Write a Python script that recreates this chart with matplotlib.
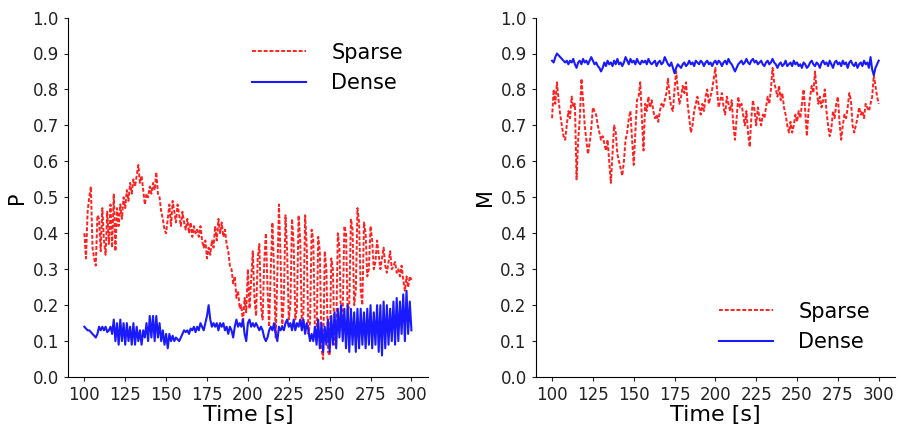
import matplotlib
matplotlib.use("Agg")
import matplotlib.pyplot as plt

times = list(range(100, 301))

p_sparse = [
    0.40, 0.33, 0.46, 0.50, 0.53, 0.36, 0.33, 0.31, 0.45, 0.44,
    0.35, 0.47, 0.38, 0.34, 0.46, 0.37, 0.48, 0.36, 0.51, 0.35,
    0.47, 0.42, 0.48, 0.44, 0.50, 0.47, 0.52, 0.49, 0.54, 0.51,
    0.55, 0.53, 0.56, 0.59, 0.54, 0.56, 0.52, 0.48, 0.51, 0.50,
    0.53, 0.51, 0.54, 0.52, 0.57, 0.51, 0.50, 0.46, 0.44, 0.41,
    0.40, 0.44, 0.48, 0.42, 0.49, 0.46, 0.43, 0.48, 0.45, 0.42,
    0.46, 0.43, 0.41, 0.44, 0.40, 0.43, 0.39, 0.42, 0.40, 0.41,
    0.39, 0.42, 0.38, 0.36, 0.38, 0.33, 0.36, 0.34, 0.38, 0.36,
    0.42, 0.38, 0.44, 0.40, 0.43, 0.39, 0.41, 0.37, 0.35, 0.31,
    0.30, 0.26, 0.28, 0.22, 0.24, 0.19, 0.20, 0.15, 0.22, 0.18,
    0.30, 0.19, 0.27, 0.35, 0.22, 0.17, 0.33, 0.37, 0.20, 0.16,
    0.32, 0.40, 0.25, 0.14, 0.30, 0.43, 0.30, 0.11, 0.28, 0.48,
    0.33, 0.13, 0.22, 0.45, 0.35, 0.16, 0.20, 0.44, 0.37, 0.16,
    0.19, 0.45, 0.38, 0.14, 0.18, 0.45, 0.36, 0.12, 0.15, 0.41,
    0.38, 0.13, 0.10, 0.39, 0.35, 0.08, 0.05, 0.35, 0.30, 0.07,
    0.06, 0.33, 0.30, 0.09, 0.12, 0.40, 0.36, 0.14, 0.18, 0.42,
    0.40, 0.18, 0.20, 0.44, 0.41, 0.20, 0.24, 0.47, 0.43, 0.24,
    0.20, 0.43, 0.40, 0.28, 0.30, 0.42, 0.38, 0.30, 0.32, 0.38,
    0.34, 0.30, 0.33, 0.36, 0.31, 0.29, 0.32, 0.35, 0.30, 0.31,
    0.32, 0.29, 0.30, 0.28, 0.31, 0.27, 0.24, 0.28, 0.25, 0.28,
    0.27,
]

p_dense = [
    0.140, 0.135, 0.130, 0.130, 0.125, 0.120, 0.115, 0.110, 0.120, 0.140,
    0.130, 0.140, 0.130, 0.140, 0.125, 0.130, 0.140, 0.120, 0.160, 0.100,
    0.150, 0.090, 0.160, 0.100, 0.150, 0.090, 0.150, 0.100, 0.140, 0.090,
    0.150, 0.090, 0.140, 0.100, 0.130, 0.090, 0.130, 0.110, 0.150, 0.100,
    0.170, 0.110, 0.170, 0.100, 0.170, 0.110, 0.150, 0.100, 0.130, 0.090,
    0.120, 0.080, 0.120, 0.100, 0.115, 0.100, 0.110, 0.105, 0.100, 0.110,
    0.120, 0.130, 0.125, 0.130, 0.120, 0.135, 0.130, 0.140, 0.125, 0.140,
    0.130, 0.150, 0.140, 0.130, 0.150, 0.170, 0.200, 0.160, 0.140, 0.150,
    0.140, 0.150, 0.130, 0.150, 0.140, 0.150, 0.130, 0.140, 0.120, 0.140,
    0.130, 0.110, 0.140, 0.160, 0.140, 0.150, 0.140, 0.160, 0.120, 0.100,
    0.150, 0.160, 0.140, 0.150, 0.140, 0.150, 0.140, 0.130, 0.140, 0.130,
    0.110, 0.100, 0.110, 0.130, 0.140, 0.130, 0.150, 0.120, 0.100, 0.140,
    0.130, 0.140, 0.130, 0.150, 0.160, 0.140, 0.150, 0.130, 0.160, 0.130,
    0.150, 0.140, 0.160, 0.130, 0.160, 0.120, 0.150, 0.130, 0.100, 0.120,
    0.100, 0.140, 0.090, 0.160, 0.080, 0.150, 0.070, 0.140, 0.090, 0.160,
    0.070, 0.170, 0.090, 0.180, 0.080, 0.190, 0.110, 0.200, 0.100, 0.190,
    0.080, 0.200, 0.070, 0.190, 0.090, 0.180, 0.070, 0.190, 0.080, 0.190,
    0.090, 0.180, 0.080, 0.190, 0.090, 0.200, 0.080, 0.180, 0.090, 0.200,
    0.070, 0.200, 0.060, 0.210, 0.080, 0.200, 0.090, 0.190, 0.100, 0.210,
    0.090, 0.220, 0.100, 0.210, 0.120, 0.230, 0.100, 0.240, 0.120, 0.210,
    0.130,
]

m_sparse = [
    0.72, 0.80, 0.76, 0.82, 0.77, 0.73, 0.70, 0.67, 0.66, 0.70,
    0.74, 0.72, 0.78, 0.75, 0.76, 0.55, 0.66, 0.72, 0.83, 0.77,
    0.70, 0.66, 0.62, 0.65, 0.69, 0.75, 0.74, 0.73, 0.70, 0.68,
    0.66, 0.67, 0.65, 0.63, 0.66, 0.60, 0.54, 0.62, 0.70, 0.68,
    0.62, 0.60, 0.58, 0.56, 0.60, 0.66, 0.68, 0.72, 0.74, 0.66,
    0.59, 0.68, 0.77, 0.78, 0.82, 0.72, 0.63, 0.76, 0.74, 0.78,
    0.75, 0.77, 0.74, 0.72, 0.73, 0.71, 0.74, 0.76, 0.75, 0.77,
    0.79, 0.83, 0.78, 0.75, 0.74, 0.80, 0.85, 0.80, 0.76, 0.78,
    0.81, 0.79, 0.82, 0.76, 0.72, 0.68, 0.70, 0.74, 0.76, 0.78,
    0.75, 0.73, 0.76, 0.74, 0.78, 0.80, 0.76, 0.78, 0.80, 0.83,
    0.86, 0.80, 0.75, 0.77, 0.79, 0.75, 0.73, 0.78, 0.76, 0.74,
    0.77, 0.70, 0.66, 0.72, 0.78, 0.75, 0.76, 0.73, 0.70, 0.74,
    0.68, 0.64, 0.72, 0.77, 0.74, 0.70, 0.75, 0.72, 0.70, 0.73,
    0.72, 0.75, 0.78, 0.76, 0.80, 0.86, 0.82, 0.80, 0.78, 0.81,
    0.77, 0.79, 0.75, 0.73, 0.70, 0.68, 0.71, 0.68, 0.70, 0.73,
    0.71, 0.74, 0.72, 0.76, 0.80, 0.74, 0.67, 0.74, 0.78, 0.81,
    0.79, 0.85, 0.80, 0.76, 0.78, 0.75, 0.77, 0.80, 0.74, 0.70,
    0.67, 0.69, 0.74, 0.72, 0.76, 0.78, 0.71, 0.66, 0.70, 0.73,
    0.72, 0.75, 0.79, 0.77, 0.70, 0.68, 0.70, 0.72, 0.75, 0.73,
    0.74, 0.72, 0.76, 0.75, 0.74, 0.76, 0.78, 0.84, 0.81, 0.78,
    0.76,
]

m_dense = [
    0.880, 0.875, 0.890, 0.900, 0.895, 0.890, 0.885, 0.880, 0.875, 0.880,
    0.870, 0.880, 0.875, 0.885, 0.870, 0.860, 0.875, 0.880, 0.870, 0.885,
    0.875, 0.880, 0.870, 0.880, 0.890, 0.880, 0.870, 0.875, 0.865, 0.860,
    0.850, 0.860, 0.875, 0.865, 0.880, 0.870, 0.875, 0.865, 0.880, 0.870,
    0.885, 0.870, 0.875, 0.865, 0.875, 0.890, 0.880, 0.870, 0.885, 0.875,
    0.880, 0.870, 0.885, 0.875, 0.870, 0.880, 0.875, 0.880, 0.870, 0.885,
    0.875, 0.870, 0.875, 0.880, 0.865, 0.875, 0.880, 0.870, 0.875, 0.890,
    0.880, 0.870, 0.865, 0.875, 0.860, 0.845, 0.860, 0.870, 0.865, 0.860,
    0.870, 0.875, 0.865, 0.870, 0.880, 0.870, 0.875, 0.865, 0.880, 0.875,
    0.870, 0.880, 0.875, 0.865, 0.875, 0.880, 0.870, 0.875, 0.865, 0.875,
    0.880, 0.870, 0.880, 0.875, 0.865, 0.875, 0.880, 0.870, 0.885, 0.875,
    0.870, 0.860, 0.850, 0.860, 0.870, 0.875, 0.880, 0.870, 0.875, 0.885,
    0.875, 0.870, 0.880, 0.885, 0.875, 0.880, 0.870, 0.875, 0.880, 0.870,
    0.865, 0.875, 0.880, 0.870, 0.875, 0.885, 0.875, 0.870, 0.860, 0.870,
    0.875, 0.865, 0.870, 0.880, 0.865, 0.870, 0.875, 0.865, 0.880, 0.870,
    0.875, 0.865, 0.870, 0.860, 0.875, 0.870, 0.860, 0.865, 0.875, 0.880,
    0.870, 0.865, 0.875, 0.870, 0.860, 0.875, 0.880, 0.870, 0.875, 0.865,
    0.880, 0.870, 0.860, 0.875, 0.880, 0.870, 0.875, 0.865, 0.880, 0.870,
    0.875, 0.860, 0.875, 0.880, 0.870, 0.865, 0.875, 0.860, 0.870, 0.875,
    0.865, 0.880, 0.870, 0.875, 0.860, 0.890, 0.855, 0.840, 0.860, 0.870,
    0.880,
]

series_labels = ["Sparse", "Dense"]
y_labels = ["P", "M"]
x_ticks = [100, 125, 150, 175, 200, 225, 250, 275, 300]
y_ticks = [0.0, 0.1, 0.2, 0.3, 0.4, 0.5, 0.6, 0.7, 0.8, 0.9, 1.0]

fig = plt.figure(figsize=(9.04, 4.28), dpi=100)
ax1 = fig.add_axes([0.0752, 0.119, 0.398, 0.840])
ax2 = fig.add_axes([0.5926, 0.119, 0.3975, 0.840])

panels = [(ax1, p_sparse, p_dense, "upper right"),
          (ax2, m_sparse, m_dense, "lower right")]

for i, (ax, sp, de, loc) in enumerate(panels):
    ax.plot(times, sp, color="#ff2020", linestyle=(0, (2, 1)), linewidth=1.4,
            label=series_labels[0])
    ax.plot(times, de, color="#1a1aff", linestyle="-", linewidth=1.5,
            label=series_labels[1])
    ax.set_ylim(0, 1.0)
    ax.set_xlim(90, 310)
    ax.set_xticks(x_ticks)
    ax.set_yticks(y_ticks)
    ax.set_yticklabels([f"{v:.1f}" for v in y_ticks])
    ax.tick_params(labelsize=12, colors="#222222", length=3)
    ax.spines["top"].set_visible(False)
    ax.spines["right"].set_visible(False)
    ax.set_xlabel("Time [s]", fontsize=16, labelpad=1)
    ax.set_ylabel(y_labels[i], fontsize=15, labelpad=4)
    ax.legend(loc=loc, fontsize=15, frameon=False, handlelength=2.6,
              handletextpad=1.2, borderaxespad=0.8)

fig.savefig("out.png", dpi=100)
